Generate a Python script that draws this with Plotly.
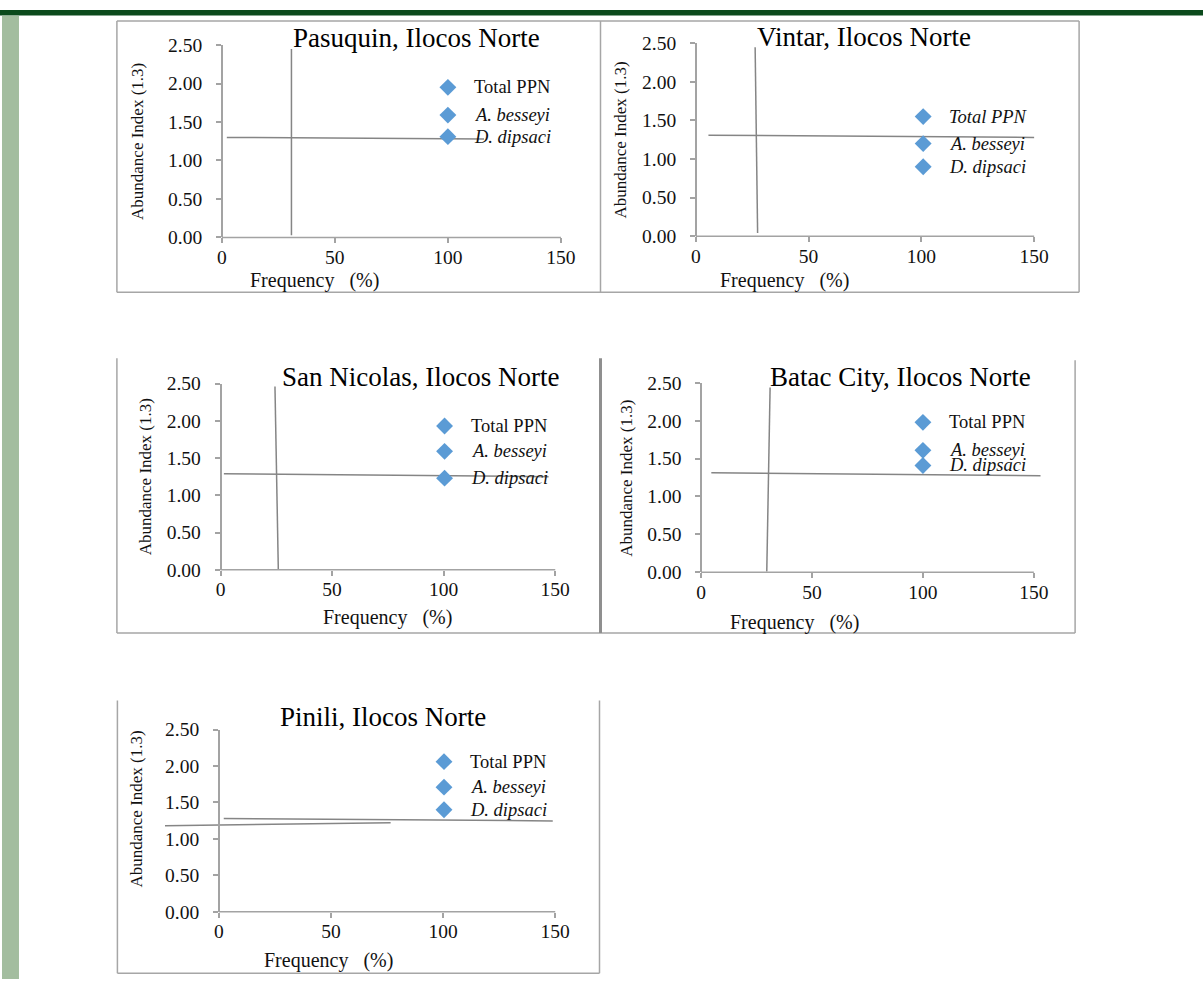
import plotly.graph_objects as go

# ---- data -------------------------------------------------------------
SITES = [
    "Pasuquin, Ilocos Norte",
    "Vintar, Ilocos Norte",
    "San Nicolas, Ilocos Norte",
    "Batac City, Ilocos Norte",
    "Pinili, Ilocos Norte",
]
SPECIES = ["Total PPN", "A. besseyi", "D. dipsaci"]

# frequency (%) of each nematode group per site
FREQ_PASUQUIN = [100, 100, 100]
FREQ_VINTAR = [100.8, 100.8, 100.8]
FREQ_SAN_NICOLAS = [100.4, 100.4, 100.4]
FREQ_BATAC = [100, 100, 100]
FREQ_PINILI = [100.4, 100.4, 100.4]

# abundance index per site
ABUND_PASUQUIN = [1.95, 1.59, 1.31]
ABUND_VINTAR = [1.55, 1.20, 0.90]
ABUND_SAN_NICOLAS = [1.93, 1.59, 1.23]
ABUND_BATAC = [1.98, 1.61, 1.41]
ABUND_PINILI = [2.06, 1.71, 1.40]

# reference (mean) lines: each segment is [x_start, x_end], [y_start, y_end]
LINES_PASUQUIN = [([30.8, 30.8], [0.03, 2.45]), ([2.2, 116], [1.30, 1.28])]
LINES_VINTAR = [([26.3, 27.4], [2.45, 0.04]), ([5.6, 150], [1.31, 1.28])]
LINES_SAN_NICOLAS = [([24.4, 25.9], [2.46, 0.0]), ([1.5, 147], [1.29, 1.25])]
LINES_BATAC = [([31.1, 29.6], [2.44, 0.01]), ([4.6, 153], [1.315, 1.275])]
LINES_PINILI = [([2.2, 148.9], [1.28, 1.246]), ([-24, 76.6], [1.18, 1.22])]

X_TICKS = [0, 50, 100, 150]
Y_TICKS = [0, 0.5, 1.0, 1.5, 2.0, 2.5]
X_TITLE = "Frequency   (%)"
Y_TITLE = "Abundance Index (1.3)"

FREQS = [FREQ_PASUQUIN, FREQ_VINTAR, FREQ_SAN_NICOLAS, FREQ_BATAC, FREQ_PINILI]
ABUNDS = [ABUND_PASUQUIN, ABUND_VINTAR, ABUND_SAN_NICOLAS, ABUND_BATAC, ABUND_PINILI]
LINES = [LINES_PASUQUIN, LINES_VINTAR, LINES_SAN_NICOLAS, LINES_BATAC, LINES_PINILI]
# Vintar sets every label in italics
ITALIC_TOTAL = [False, True, False, False, False]

# ---- page geometry (pixels) -----------------------------------------
W, H = 1204, 990
V_OFFSET, V_SCALE = 10.0, 0.978   # vertical placement of the layout grid
X_VIEW = [-28, 156]

# x of value 0, x of value 150, y of 2.5, y of 0
AXES_PX = [
    (222.0, 561.4, 45.0, 237.3),
    (696.4, 1035.0, 43.3, 236.0),
    (220.7, 555.7, 383.3, 569.3),
    (701.7, 1034.7, 382.7, 571.7),
    (219.0, 555.7, 729.0, 911.0),
]
TITLE_PX = [(417, 38), (865, 37), (421, 377), (901, 377), (383, 716)]
XTITLE_PX = [(315, 280), (785, 280), (388, 617), (795, 622), (329, 960)]
YTITLE_PX = [(137, 141), (621, 140), (145, 476), (627, 478), (137, 808)]

SERIF = "Liberation Serif, Times New Roman, serif"
TXT = "#111111"
AXIS_GREY = "#a3a3a3"
LINE_GREY = "#858585"
BLUE = "#5b9bd5"
BORDER = "#a6a6a6"


def fx(p):
    return p / W


def fy(p):
    return 1 - ((p - V_OFFSET) / V_SCALE) / H


fig = go.Figure()
annotations = []
shapes = []
layout_axes = {}

for i in range(5):
    n = i + 1
    xa = "x" if n == 1 else f"x{n}"
    ya = "y" if n == 1 else f"y{n}"
    x0p, x150p, ytopp, ybotp = AXES_PX[i]
    scale = (x150p - x0p) / (X_TICKS[-1] - X_TICKS[0])
    left = x0p + (X_VIEW[0] - X_TICKS[0]) * scale
    right = x0p + (X_VIEW[1] - X_TICKS[0]) * scale

    layout_axes["xaxis" if n == 1 else f"xaxis{n}"] = dict(
        domain=[fx(left), fx(right)], range=X_VIEW, anchor=ya,
        showline=False, showgrid=False, zeroline=False,
        tickvals=X_TICKS, ticks="outside", ticklen=5, tickwidth=1.5,
        tickcolor=AXIS_GREY, tickfont=dict(family=SERIF, size=19.5, color=TXT),
        ticklabelstandoff=-3, fixedrange=True,
    )
    layout_axes["yaxis" if n == 1 else f"yaxis{n}"] = dict(
        domain=[fy(ybotp), fy(ytopp)], range=[Y_TICKS[0], Y_TICKS[-1]],
        anchor="free", position=fx(x0p),
        showline=True, linecolor=AXIS_GREY, linewidth=1.5,
        showgrid=False, zeroline=False,
        tickvals=Y_TICKS, tickformat=".2f", ticks="outside", ticklen=5,
        tickwidth=1.5, tickcolor=AXIS_GREY,
        tickfont=dict(family=SERIF, size=19.5, color=TXT),
        ticklabelstandoff=10, fixedrange=True,
    )

    # x axis base line spanning the tick range only
    span = X_VIEW[1] - X_VIEW[0]
    shapes.append(dict(
        type="line", xref=f"{xa} domain", yref=f"{ya} domain",
        x0=(X_TICKS[0] - X_VIEW[0]) / span, x1=(X_TICKS[-1] - X_VIEW[0]) / span,
        y0=0, y1=0, line=dict(color=AXIS_GREY, width=1.5),
    ))

    for xs, ys in LINES[i]:
        fig.add_trace(go.Scatter(
            x=xs, y=ys, mode="lines", xaxis=xa, yaxis=ya,
            line=dict(color=LINE_GREY, width=1.5), showlegend=False,
            hoverinfo="skip",
        ))

    fig.add_trace(go.Scatter(
        x=FREQS[i], y=ABUNDS[i], mode="markers", xaxis=xa, yaxis=ya,
        marker=dict(symbol="diamond", size=13, color=BLUE),
        showlegend=False, text=SPECIES,
    ))

    for k, (fq, ab, sp) in enumerate(zip(FREQS[i], ABUNDS[i], SPECIES)):
        italic = k > 0 or ITALIC_TOTAL[i]
        annotations.append(dict(
            x=fq, y=ab, xref=xa, yref=ya, xanchor="left", yanchor="middle",
            xshift=24, showarrow=False,
            text=f"<i>{sp}</i>" if italic else sp,
            font=dict(family=SERIF, size=18.5, color=TXT),
        ))

    tx, ty = TITLE_PX[i]
    annotations.append(dict(
        x=fx(tx), y=fy(ty), xref="paper", yref="paper", xanchor="center",
        yanchor="middle", showarrow=False, text=SITES[i],
        font=dict(family=SERIF, size=27, color="#000000"),
    ))
    ax_, ay_ = XTITLE_PX[i]
    annotations.append(dict(
        x=fx(ax_), y=fy(ay_), xref="paper", yref="paper", xanchor="center",
        yanchor="middle", showarrow=False, text=X_TITLE.replace(" ", "&nbsp;"),
        font=dict(family=SERIF, size=20, color=TXT),
    ))
    bx_, by_ = YTITLE_PX[i]
    annotations.append(dict(
        x=fx(bx_), y=fy(by_), xref="paper", yref="paper", xanchor="center",
        yanchor="middle", showarrow=False, text=Y_TITLE, textangle=-90,
        font=dict(family=SERIF, size=17, color=TXT),
    ))


def seg(xa, ya, xb, yb, color=BORDER, width=1.5):
    return dict(type="line", xref="paper", yref="paper",
                x0=fx(xa), y0=fy(ya), x1=fx(xb), y1=fy(yb),
                line=dict(color=color, width=width), layer="below")


# page decoration: header band and side strip
shapes.append(dict(type="rect", xref="paper", yref="paper",
                   x0=0, x1=1, y0=1 - 5.5 / H, y1=1, fillcolor="#0b4a1c",
                   line=dict(width=0), layer="below"))
shapes.append(dict(type="rect", xref="paper", yref="paper",
                   x0=fx(2), x1=fx(19), y0=0, y1=1 - 6 / H,
                   fillcolor="#a3bd9f", line=dict(width=0), layer="below"))

# panel frames
shapes += [
    seg(117, 21, 1080, 21), seg(117, 21, 117, 292), seg(117, 292, 1080, 292),
    seg(601, 21, 601, 292), seg(1080, 21, 1080, 292),
    seg(117, 358, 117, 632.5), seg(117, 632.5, 1076, 632.5),
    seg(601, 358, 601, 632.5, color="#8f8f8f", width=3),
    seg(1076, 360, 1076, 632.5),
    seg(117.5, 700, 117.5, 972.5), seg(117.5, 972.5, 600, 972.5),
    seg(600, 700, 600, 972.5),
]

fig.update_layout(
    width=W, height=H, margin=dict(l=0, r=0, t=0, b=0),
    paper_bgcolor="#ffffff", plot_bgcolor="rgba(0,0,0,0)",
    showlegend=False, annotations=annotations, shapes=shapes,
    **layout_axes,
)

fig.write_html("out.html")
